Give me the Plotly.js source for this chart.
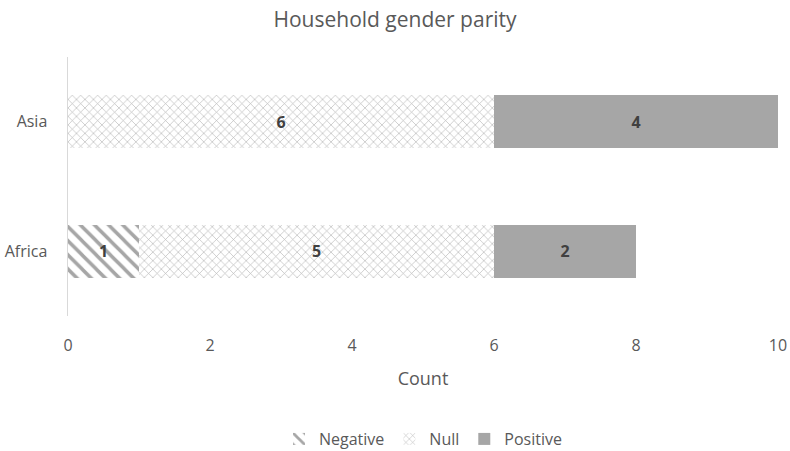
<!DOCTYPE html>
<html><head><meta charset="utf-8">
<script src="https://cdn.plot.ly/plotly-3.0.1.min.js"></script>
<style>body{margin:0}</style>
</head><body>
<div id="chart" style="width:790px;height:451px"></div>
<script>
const categories = ["Africa", "Asia"];
const negative = [1, 0];
const nullVals = [5, 6];
const positive = [2, 4];
const xTicks = [0, 2, 4, 6, 8, 10];

const lbl = v => v.map(x => x ? String(x) : "");
const txtFont = {family: "Open Sans, Liberation Sans, sans-serif", size: 16, color: "#404040", weight: "bold"};

const traces = [
  {name: "Negative", y: categories, x: negative, type: "bar", orientation: "h",
   text: lbl(negative), textposition: "inside", insidetextanchor: "middle", textfont: txtFont,
   marker: {color: "#ffffff", pattern: {shape: "\\", fgcolor: "#a6a6a6", bgcolor: "#ffffff", size: 10, solidity: 0.35}},
   hoverinfo: "x+name"},
  {name: "Null", y: categories, x: nullVals, type: "bar", orientation: "h",
   text: lbl(nullVals), textposition: "inside", insidetextanchor: "middle", textfont: txtFont,
   marker: {color: "#ffffff", pattern: {shape: "x", fgcolor: "#b4b4b4", bgcolor: "#ffffff", size: 6, solidity: 0.2}},
   hoverinfo: "x+name"},
  {name: "Positive", y: categories, x: positive, type: "bar", orientation: "h",
   text: lbl(positive), textposition: "inside", insidetextanchor: "middle", textfont: txtFont,
   marker: {color: "#a6a6a6"},
   hoverinfo: "x+name"}
];

const layout = {
  width: 790, height: 451,
  margin: {l: 68, r: 12, t: 57, b: 135, autoexpand: false},
  barmode: "stack",
  bargap: 0.59,
  paper_bgcolor: "#ffffff", plot_bgcolor: "#ffffff",
  font: {family: "Open Sans, Liberation Sans, sans-serif", color: "#595959", size: 15},
  title: {text: "Household gender parity", x: 0.5, xanchor: "center", y: 0.972, yanchor: "top",
          font: {size: 21, color: "#595959"}},
  xaxis: {range: [0, 10], tickvals: xTicks, ticktext: xTicks.map(String), showgrid: false, zeroline: false,
          showline: false, ticks: "", tickfont: {size: 16, color: "#595959"}, automargin: false,
          ticklabelstandoff: 18,
          title: {text: "Count", font: {size: 18, color: "#595959"}, standoff: 17}},
  yaxis: {showgrid: false, zeroline: false, showline: true, linecolor: "#d9d9d9", linewidth: 1.5,
          ticks: "", tickfont: {size: 16, color: "#595959"}, ticklabelstandoff: 16, automargin: false},
  legend: {orientation: "h", x: 0.5, xanchor: "center", y: -0.475, yanchor: "middle",
           font: {size: 16, color: "#595959"}, traceorder: "normal", itemwidth: 30},
  showlegend: true
};

Plotly.newPlot("chart", traces, layout, {displayModeBar: false, staticPlot: true});
</script>
</body></html>
